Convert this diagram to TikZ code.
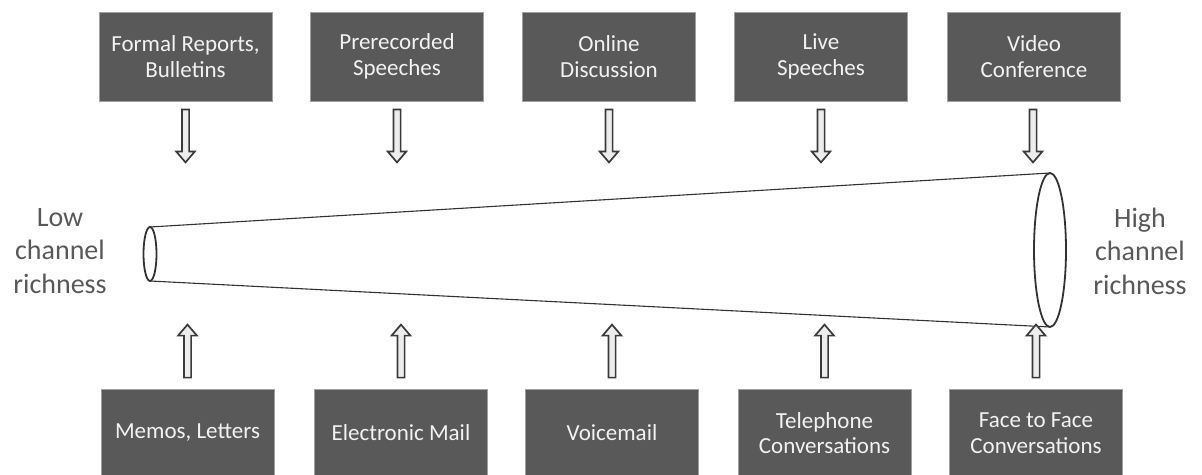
\documentclass[tikz,border=0pt]{standalone}
\usepackage{fontspec}
\setmainfont{Carlito}
\usetikzlibrary{calc}

\definecolor{boxgray}{HTML}{595959}
\definecolor{boxedge}{HTML}{A0A0A0}
\definecolor{boxtext}{HTML}{F2F2F2}
\definecolor{labelgray}{HTML}{595959}
\definecolor{conegray}{HTML}{333333}
\definecolor{arrowedge}{HTML}{3A3A3A}
\definecolor{arrowfill}{HTML}{EDEDED}

\tikzset{
  channelbox/.style={fill=boxgray, draw=boxedge, line width=0.8pt, text=boxtext,
    minimum width=173pt, inner sep=0pt, align=center,
    font=\fontsize{23}{25.5}\selectfont},
  topbox/.style={channelbox, minimum height=89pt},
  botbox/.style={channelbox, minimum height=88pt},
  sidelabel/.style={text=labelgray, align=center, inner sep=0pt,
    font=\fontsize{28}{33.5}\selectfont},
  coneline/.style={draw=conegray, line width=1.1pt},
  conerim/.style={draw=conegray, line width=1.8pt, fill=white},
  hollowarrow/.pic={
    \draw[draw=arrowedge, fill=arrowfill, line width=1.7pt, line join=miter]
      (-3.6,0) -- (3.6,0) -- (3.6,42) -- (9.4,42) -- (0,53)
      -- (-9.4,42) -- (-3.6,42) -- cycle;
  },
}

\begin{document}
\begin{tikzpicture}[x=1pt, y=-1pt]
  \useasboundingbox (0,0) rectangle (1202,474);
  \clip (0,0) rectangle (1202,474);

  % media in the upper row
  \node[topbox] (t1) at (185.5,56.5) {Formal Reports,\\Bulletins};
  \node[topbox] (t2) at (397,56.5)   {Prerecorded\\Speeches};
  \node[topbox] (t3) at (609,56.5)   {Online\\Discussion};
  \node[topbox] (t4) at (821,56.5)   {Live\\Speeches};
  \node[topbox] (t5) at (1034,56.5)  {Video\\Conference};

  % media in the lower row (cut by the page edge)
  \node[botbox] (b1) at (187.5,433) {Memos, Letters};
  \node[botbox] (b2) at (401,433)   {Electronic Mail};
  \node[botbox] (b3) at (612,433)   {Voicemail};
  \node[botbox] (b4) at (824.5,433) {Telephone\\Conversations};
  \node[botbox] (b5) at (1036,433)  {Face to Face\\Conversations};

  % the channel cone
  \coordinate (lo)    at (150,254);
  \coordinate (hi)    at (1050,250);
  \coordinate (lotop) at (150,227);
  \coordinate (lobot) at (150,281);
  \coordinate (hitop) at (1050,173);
  \coordinate (hibot) at (1050,327);
  \draw[coneline] (lotop) -- (hitop);
  \draw[coneline] (lobot) -- (hibot);
  \draw[conerim] (lo) ellipse [x radius=6.5, y radius=27];
  \draw[conerim] (hi) ellipse [x radius=16, y radius=77];

  % arrows pointing into the cone
  \foreach \n in {t1,t2,t3,t4}
    \pic at ($(\n.south)+(0,8)$) {hollowarrow};
  \pic at ($(t5.south)+(-1,8)$) {hollowarrow};
  \foreach \n in {b1,b2,b3,b4,b5}
    \pic[yscale=-1] at ($(\n.north)+(0,-11)$) {hollowarrow};

  % end labels
  \node[sidelabel] (low)  at (60,251)   {Low\\channel\\richness};
  \node[sidelabel] (high) at (1140,251) {High\\channel\\richness};
\end{tikzpicture}
\end{document}
